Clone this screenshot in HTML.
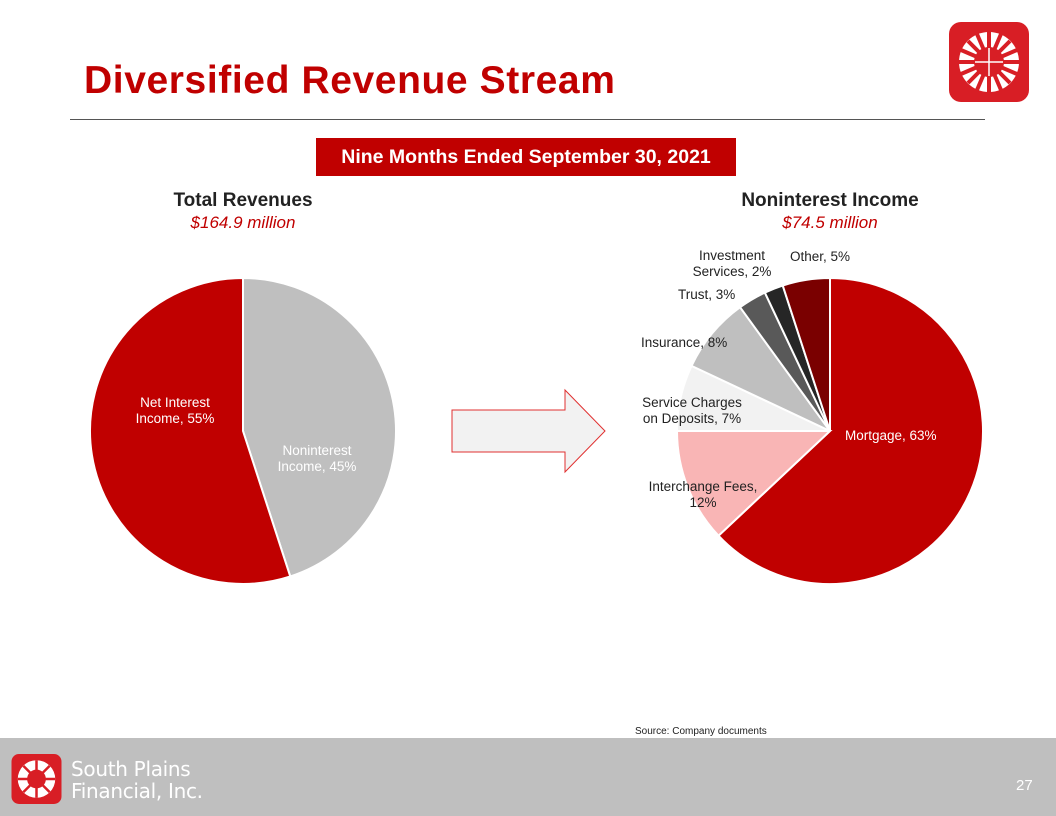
<!DOCTYPE html>
<html><head><meta charset="utf-8"><style>
body{margin:0;width:1056px;height:816px;position:relative;background:#fff;font-family:"Liberation Sans",sans-serif;overflow:hidden}
.a{position:absolute}
.lbl{position:absolute;font-size:13.5px;color:#222;text-align:center;line-height:16px;white-space:nowrap}
</style></head><body>
<div class="a" style="left:84px;top:59px;font-size:39px;letter-spacing:0.6px;font-weight:bold;color:#C00000">Diversified Revenue Stream</div>
<div class="a" style="left:70px;top:119px;width:915px;height:1px;background:#555"></div>
<svg class="a" style="left:949px;top:22px" width="80" height="80" viewBox="0 0 80 80">
<rect x="0" y="0" width="80" height="80" rx="12" fill="#D81E25"/>
<circle cx="40" cy="40" r="30" fill="#fff"/><circle cx="40" cy="40" r="15" fill="#D81E25"/>
<g stroke="#D81E25" stroke-width="4"><line x1="40" y1="10" x2="40" y2="70"/><line x1="10" y1="40" x2="70" y2="40"/><line x1="19" y1="19" x2="61" y2="61"/><line x1="61" y1="19" x2="19" y2="61"/><line x1="28" y1="12" x2="52" y2="68"/><line x1="52" y1="12" x2="28" y2="68"/><line x1="12" y1="28" x2="68" y2="52"/><line x1="12" y1="52" x2="68" y2="28"/></g>
<g stroke="#fff" stroke-width="1.5"><line x1="40" y1="26" x2="40" y2="54"/><line x1="26" y1="40" x2="54" y2="40"/></g></svg>
<div class="a" style="left:316px;top:138px;width:420px;height:38px;background:#C00000;color:#fff;font-size:19.5px;font-weight:bold;text-align:center;line-height:38px">Nine Months Ended September 30, 2021</div>
<div class="a" style="left:120px;top:190px;width:246px;text-align:center;font-size:19px;font-weight:bold;color:#222">Total Revenues</div>
<div class="a" style="left:120px;top:213px;width:246px;text-align:center;font-size:17px;font-style:italic;color:#C00000">$164.9 million</div>
<div class="a" style="left:700px;top:190px;width:260px;text-align:center;font-size:19px;font-weight:bold;color:#222">Noninterest Income</div>
<div class="a" style="left:700px;top:213px;width:260px;text-align:center;font-size:17px;font-style:italic;color:#C00000">$74.5 million</div>
<svg class="a" id="charts" style="left:0;top:0" width="1056" height="816">
<polygon points="452,410 565,410 565,390 605,431 565,472 565,452 452,452" fill="#F2F2F2" stroke="#E03030" stroke-width="1"/>
</svg>
<div class="lbl" style="left:120px;top:395px;color:#fff;width:110px">Net Interest<br>Income, 55%</div>
<div class="lbl" style="left:262px;top:443px;color:#fff;width:110px">Noninterest<br>Income, 45%</div>
<div class="lbl" style="left:845px;top:428px;color:#fff">Mortgage, 63%</div>
<div class="lbl" style="left:640px;top:479px;width:126px">Interchange Fees,<br>12%</div>
<div class="lbl" style="left:632px;top:395px;width:120px">Service Charges<br>on Deposits, 7%</div>
<div class="lbl" style="left:641px;top:335px">Insurance, 8%</div>
<div class="lbl" style="left:678px;top:287px">Trust, 3%</div>
<div class="lbl" style="left:680px;top:248px;width:104px">Investment<br>Services, 2%</div>
<div class="lbl" style="left:790px;top:249px">Other, 5%</div>
<div class="a" style="left:635px;top:726px;font-size:10px;color:#222">Source: Company documents</div>
<div class="a" style="left:0;top:738px;width:1056px;height:78px;background:#BFBFBF"></div>
<svg class="a" style="left:11px;top:754px" width="51" height="50" viewBox="0 0 80 80">
<rect width="80" height="80" rx="12" fill="#D81E25"/><circle cx="40" cy="40" r="30" fill="#fff"/><circle cx="40" cy="40" r="15" fill="#D81E25"/>
<g stroke="#D81E25" stroke-width="4"><line x1="40" y1="10" x2="40" y2="70"/><line x1="10" y1="40" x2="70" y2="40"/><line x1="19" y1="19" x2="61" y2="61"/><line x1="61" y1="19" x2="19" y2="61"/></g></svg>
<div class="a" style="left:71px;top:758px;font-size:20px;line-height:22px;color:#fff;font-family:'DejaVu Sans',sans-serif;letter-spacing:-0.3px">South Plains<br>Financial, Inc.</div>
<div class="a" style="left:1016px;top:777px;font-size:15px;color:#fff">27</div>
<script>
const leftCategories=["Noninterest Income","Net Interest Income"];
const leftValues=[45,55];
const leftColors=["#BFBFBF","#C00000"];
const rightCategories=["Mortgage","Interchange Fees","Service Charges on Deposits","Insurance","Trust","Investment Services","Other"];
const rightValues=[63,12,7,8,3,2,5];
const rightColors=["#C00000","#F9B5B5","#F2F2F2","#BFBFBF","#595959","#262626","#7A0000"];
const svg=document.getElementById('charts');
function pie(cx,cy,r,vals,cols,cats,prefix){
  const tot=vals.reduce((a,b)=>a+b,0);let a0=0;
  vals.forEach((v,i)=>{
    const a1=a0+v/tot*2*Math.PI;
    const x0=cx+r*Math.sin(a0),y0=cy-r*Math.cos(a0),x1=cx+r*Math.sin(a1),y1=cy-r*Math.cos(a1);
    const p=document.createElementNS('http://www.w3.org/2000/svg','path');
    p.setAttribute('d',`M${cx},${cy}L${x0},${y0}A${r},${r} 0 ${a1-a0>Math.PI?1:0} 1 ${x1},${y1}Z`);
    p.setAttribute('fill',cols[i]);p.setAttribute('stroke','#fff');p.setAttribute('stroke-width','2');
    
    
    svg.appendChild(p);a0=a1;
  });
}
pie(243,431,153,leftValues,leftColors,leftCategories,'left');
pie(830,431,153,rightValues,rightColors,rightCategories,'right');
</script>
</body></html>
